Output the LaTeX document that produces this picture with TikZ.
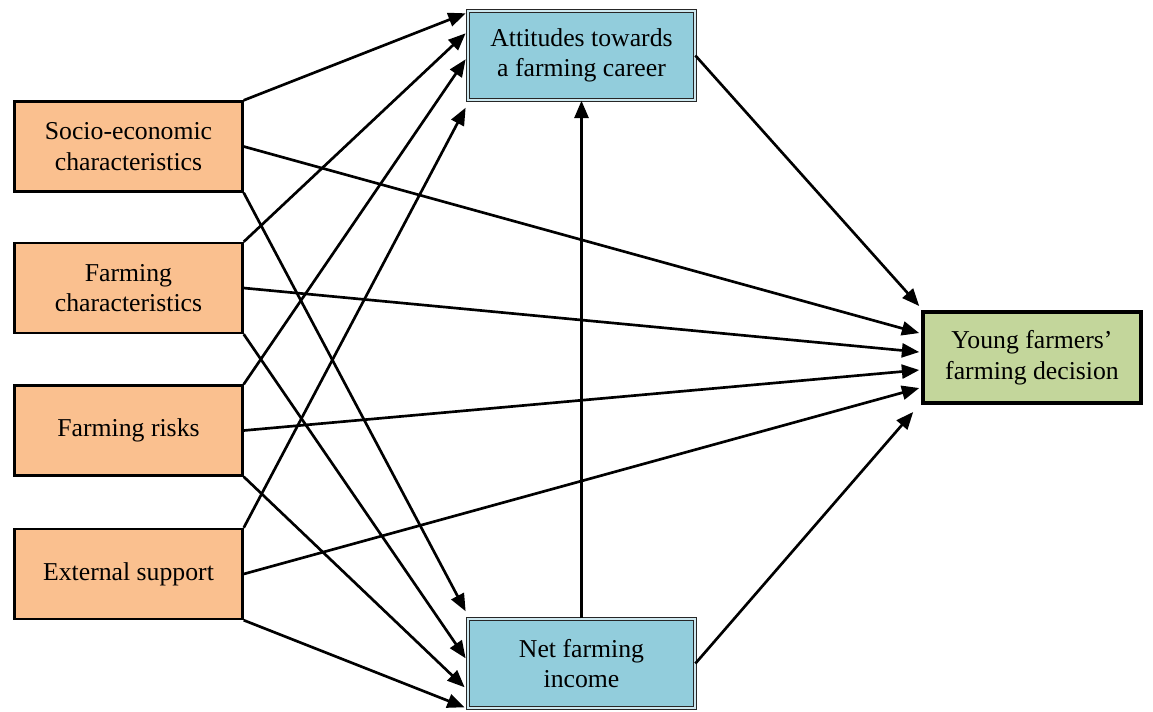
\documentclass[tikz,border=0pt]{standalone}
\usepackage{fontspec}
\setmainfont{Liberation Serif}
\usetikzlibrary{arrows.meta,calc}

\definecolor{boxorange}{RGB}{250,192,143}
\definecolor{boxblue}{RGB}{146,205,220}
\definecolor{boxgreen}{RGB}{195,214,155}

\tikzset{every picture/.style={line width=0.75pt}}
\tikzset{
  factor/.style={draw, line width=1.8pt, fill=boxorange, minimum width=171pt, minimum height=67.5pt,
    align=center, font=\fontsize{19.3}{23}\selectfont},
  mediator/.style={draw=black!85, line width=0.8pt, double=boxblue!45!white, double distance=1.4pt,
    fill=boxblue, minimum width=170pt, minimum height=67pt, align=center, font=\fontsize{19.3}{23}\selectfont},
  outcome/.style={draw, line width=3.2pt, fill=boxgreen, minimum width=163pt, minimum height=68pt,
    align=center, font=\fontsize{19.3}{23}\selectfont},
  arr/.style={-{Triangle[length=13pt,width=10.5pt]}, line width=2pt},
}

\begin{document}
\begin{tikzpicture}[x=0.75pt,y=0.75pt,yscale=-1,xscale=1]
\useasboundingbox (0,0) rectangle (1153,711);

%Shape: Rectangle (left factors)
\node [factor] (socio) at (128.5,146.5) {Socio-economic\\characteristics};
\node [factor] (farmchar) at (128.5,288) {Farming\\characteristics};
\node [factor] (risks) at (128.5,430.5) {Farming risks};
\node [factor] (support) at (128.5,574) {External support};

%Shape: Rectangle (mediators)
\node [mediator] (attitude) at (581.5,55.5) {Attitudes towards\\a farming career};
\node [mediator] (income) at (581.5,663.5) {Net farming\\income};

%Shape: Rectangle (outcome)
\node [outcome] (decision) at (1032,357.5) {Young farmers’\\farming decision};

%Straight Lines: factors to attitudes
\draw [arr] (socio.north east) -- ($(attitude.north west)+(-2,3)$);
\draw [arr] (farmchar.north east) -- ($(attitude.north west)+(-2,23)$);
\draw [arr] (risks.north east) -- ($(attitude.north west)+(-2,49)$);
\draw [arr] (support.north east) -- ($(attitude.south west)+(-2,7)$);

%Straight Lines: factors to income
\draw [arr] (socio.south east) -- ($(income.north west)+(-2,-7)$);
\draw [arr] (farmchar.south east) -- ($(income.north west)+(-2,40)$);
\draw [arr] (risks.south east) -- ($(income.north west)+(-3,69)$);
\draw [arr] (support.south east) -- ($(income.north west)+(-3,89)$);

%Straight Lines: factors to decision
\draw [arr] (socio.east) -- ($(decision.north west)+(-2,23)$);
\draw [arr] (farmchar.east) -- ($(decision.north west)+(-2,42)$);
\draw [arr] (risks.east) -- ($(decision.north west)+(-2,60)$);
\draw [arr] (support.east) -- ($(decision.north west)+(-2,78)$);

%Straight Lines: mediators
\draw [arr] (income.north) -- (attitude.south);
\draw [arr] (attitude.east) -- ($(decision.north west)+(-2,-4)$);
\draw [arr] (income.east) -- ($(decision.south west)+(-8,7)$);

\end{tikzpicture}
\end{document}
